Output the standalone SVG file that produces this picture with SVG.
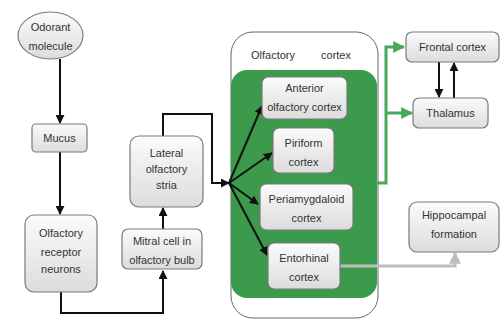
<svg xmlns="http://www.w3.org/2000/svg" width="501" height="325" viewBox="0 0 501 325">
<style>
.box{stroke:#7a7a7a;stroke-width:1.2;fill:url(#g)}
.t{font-family:"Liberation Sans",Arial,sans-serif;font-size:11px;fill:#333;text-anchor:middle}
.k{fill:none;stroke:#111;stroke-width:2}
.gr{fill:none;stroke:#4aa85a;stroke-width:3}
.gy{fill:none;stroke:#bdbdbd;stroke-width:3}
</style>
<defs>
<linearGradient id="g" x1="0" y1="0" x2="0" y2="1"><stop offset="0" stop-color="#fbfbfb"/><stop offset="1" stop-color="#dcdcdc"/></linearGradient>
<marker id="ak" viewBox="0 0 10 10" refX="9" refY="5" markerWidth="4.5" markerHeight="4.5" orient="auto" markerUnits="strokeWidth"><path d="M0,0L10,5L0,10z" fill="#111"/></marker>
<marker id="ag" viewBox="0 0 10 10" refX="9" refY="5" markerWidth="4" markerHeight="4" orient="auto" markerUnits="strokeWidth"><path d="M0,0L10,5L0,10z" fill="#4aa85a"/></marker>
<marker id="ay" viewBox="0 0 10 10" refX="9" refY="5" markerWidth="4" markerHeight="4" orient="auto" markerUnits="strokeWidth"><path d="M0,0L10,5L0,10z" fill="#bdbdbd"/></marker>
</defs>
<rect width="501" height="325" fill="#fff"/>
<g id="cortex-outer"><rect x="231" y="32" width="147" height="286" rx="22" fill="#fff" stroke="#666" stroke-width="1"/>
<text class="t" x="273" y="59">Olfactory</text><text class="t" x="336" y="59">cortex</text></g>
<g id="cortex-green"><rect x="231" y="70" width="146" height="228" rx="16" fill="#3c9a4c"/></g>
<g id="connectors">
<line class="k" x1="60" y1="59" x2="60" y2="123" marker-end="url(#ak)"/>
<line class="k" x1="60" y1="152" x2="60" y2="214" marker-end="url(#ak)"/>
<polyline class="k" points="61,292 61,313 163,313 163,271" marker-end="url(#ak)"/>
<line class="k" x1="163" y1="229" x2="163" y2="208" marker-end="url(#ak)"/>
<polyline class="k" points="163,136 163,114 212,114 212,183 229,183" marker-end="url(#ak)"/>
<line class="k" x1="229" y1="183" x2="262" y2="106" marker-end="url(#ak)"/>
<line class="k" x1="229" y1="183" x2="272" y2="153" marker-end="url(#ak)"/>
<line class="k" x1="229" y1="183" x2="258" y2="204" marker-end="url(#ak)"/>
<line class="k" x1="229" y1="183" x2="267" y2="255" marker-end="url(#ak)"/>
<polyline class="gr" points="376,183 386,183 386,47 404,47" marker-end="url(#ag)"/>
<line class="gr" x1="386" y1="113" x2="412" y2="113" marker-end="url(#ag)"/>
<line class="k" x1="439" y1="62" x2="439" y2="97" marker-end="url(#ak)"/>
<line class="k" x1="454" y1="98" x2="454" y2="63" marker-end="url(#ak)"/>
<polyline class="gy" points="340,266 455,266 455,253" marker-end="url(#ay)"/>
</g>
<g id="odorant"><ellipse cx="50.5" cy="35.5" rx="32.5" ry="23.5" class="box"/>
<text class="t" x="50.5" y="31">Odorant</text><text class="t" x="50.5" y="50">molecule</text></g>
<g id="mucus"><rect x="32" y="124" width="55" height="28" rx="4" class="box"/><text class="t" x="59.5" y="142">Mucus</text></g>
<g id="orn"><rect x="25" y="215" width="72" height="77" rx="9" class="box"/>
<text class="t" x="61" y="237">Olfactory</text><text class="t" x="61" y="256">receptor</text><text class="t" x="61" y="273">neurons</text></g>
<g id="mitral"><rect x="122" y="229" width="80" height="40" rx="6" class="box"/>
<text class="t" x="162" y="245">Mitral cell in</text><text class="t" x="162" y="264">olfactory bulb</text></g>
<g id="lateral"><rect x="130" y="136" width="73" height="71" rx="9" class="box"/>
<text class="t" x="166.5" y="157">Lateral</text><text class="t" x="166.5" y="173">olfactory</text><text class="t" x="166.5" y="189">stria</text></g>
<g id="anterior"><rect x="262" y="77" width="85" height="42" rx="6" class="box"/>
<text class="t" x="304.5" y="92">Anterior</text><text class="t" x="304.5" y="111">olfactory cortex</text></g>
<g id="piriform"><rect x="273" y="128" width="61" height="45" rx="6" class="box"/>
<text class="t" x="303.5" y="147">Piriform</text><text class="t" x="303.5" y="166">cortex</text></g>
<g id="periamygdaloid"><rect x="260" y="184" width="93" height="46" rx="6" class="box"/>
<text class="t" x="306.5" y="203">Periamygdaloid</text><text class="t" x="306.5" y="222">cortex</text></g>
<g id="entorhinal"><rect x="268" y="243" width="72" height="46" rx="6" class="box"/>
<text class="t" x="304" y="262">Entorhinal</text><text class="t" x="304" y="281">cortex</text></g>
<g id="frontal"><rect x="406" y="32" width="93" height="30" rx="6" class="box"/><text class="t" x="452.5" y="51">Frontal cortex</text></g>
<g id="thalamus"><rect x="413" y="98" width="75" height="30" rx="6" class="box"/><text class="t" x="450.5" y="117">Thalamus</text></g>
<g id="hippocampal"><rect x="409" y="202" width="90" height="50" rx="8" class="box"/>
<text class="t" x="454" y="219">Hippocampal</text><text class="t" x="454" y="238">formation</text></g>
</svg>
